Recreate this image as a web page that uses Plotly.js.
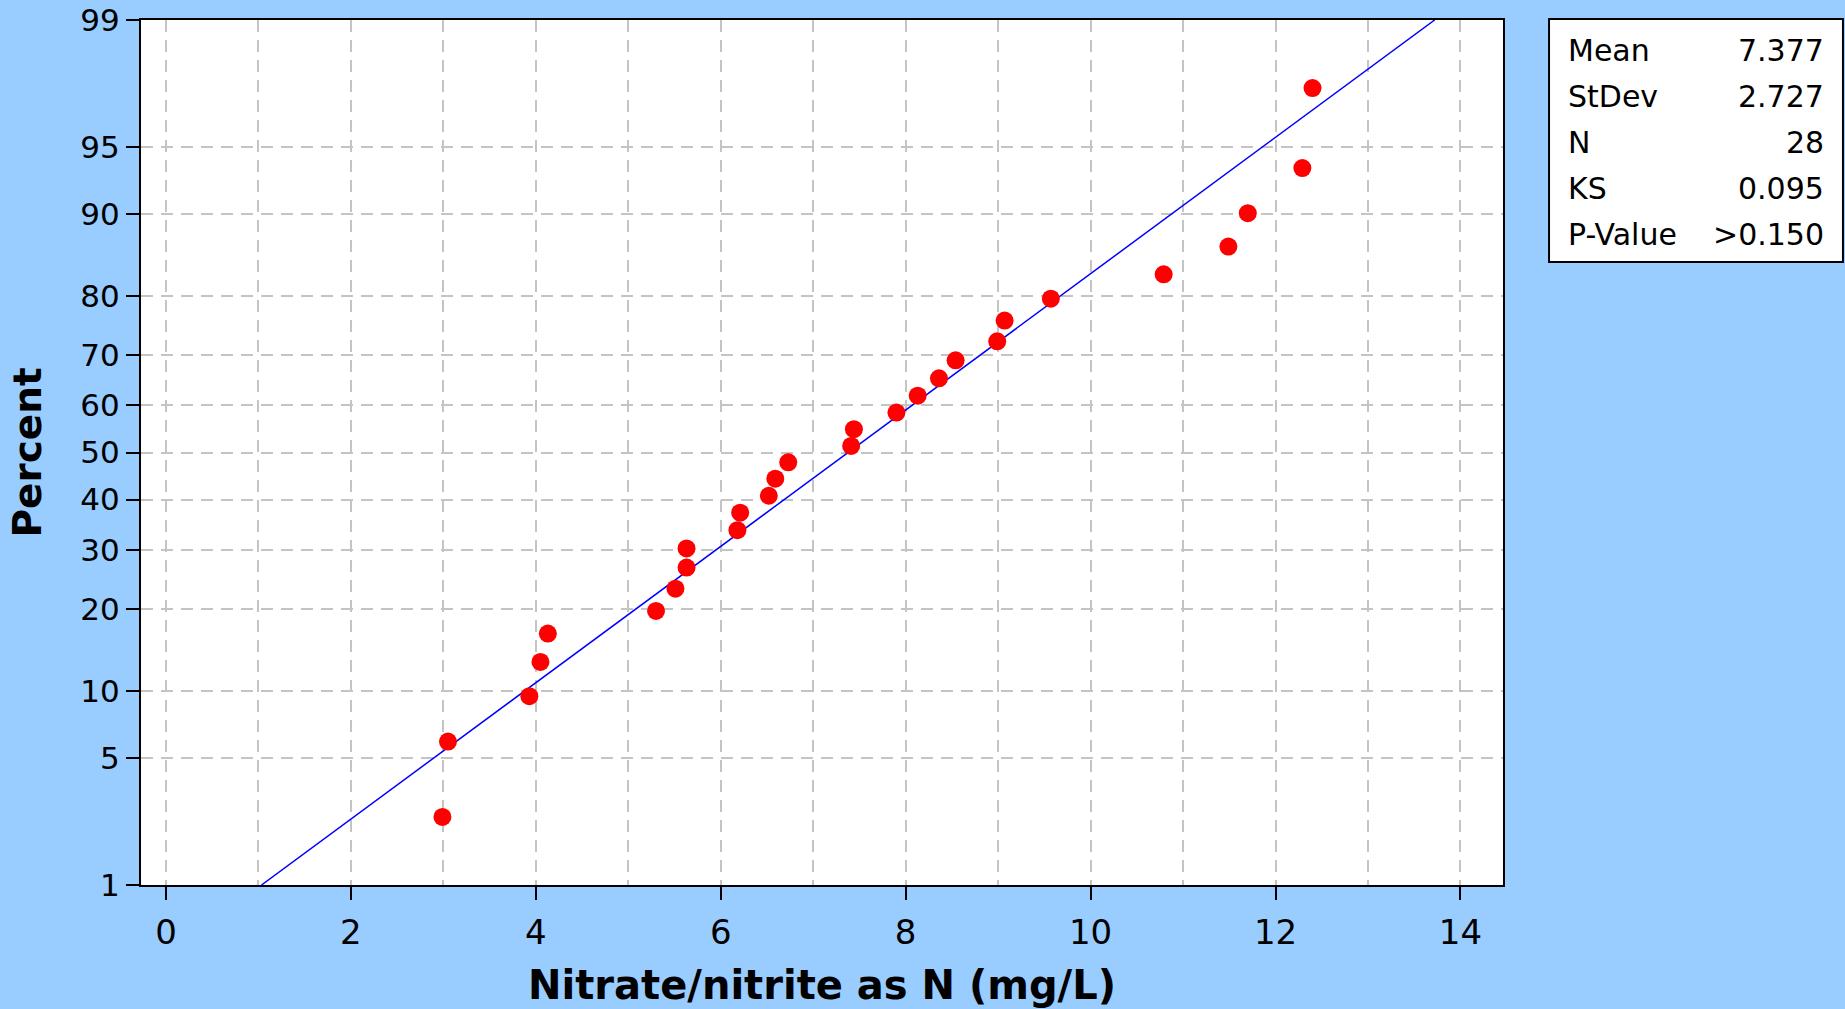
<!DOCTYPE html>
<html>
<head>
<meta charset="utf-8">
<script src="https://cdn.plot.ly/plotly-3.0.1.min.js"></script>
<style>
html,body{margin:0;padding:0;background:#99ccff;}
#chart{width:1845px;height:1009px;}
</style>
</head>
<body>
<div id="chart"></div>
<script>
const nitrateValues = [2.99, 3.05, 3.93, 4.05, 4.13, 5.30, 5.51, 5.63, 5.63, 6.18,
  6.21, 6.52, 6.59, 6.73, 7.41, 7.44, 7.90, 8.13, 8.36, 8.54,
  8.99, 9.07, 9.57, 10.79, 11.49, 11.70, 12.29, 12.40];
// Plotted cumulative percent of each point
const pointPercent = [2.5, 6.0, 9.5, 13.0, 16.5, 19.7, 23.2, 26.8, 30.3, 33.8,
  37.3, 40.8, 44.4, 47.9, 51.4, 55.0, 58.5, 62.0, 65.5, 69.0,
  72.5, 76.1, 79.6, 83.1, 86.6, 90.1, 93.7, 97.5];
// Probability-axis tick labels (percent)
const percentTicks = [1, 5, 10, 20, 30, 40, 50, 60, 70, 80, 90, 95, 99];
// Statistics box
const statLabels = ["Mean", "StDev", "N", "KS", "P-Value"];
const statValues = ["7.377", "2.727", "28", "0.095", ">0.150"];
const fitMean = 7.377;
const fitStDev = 2.727;
const fitPercentEnds = [1, 99];

// Probability scale: percent -> standard normal quantile (Acklam)
function normInv(p) {
  const a = [-3.969683028665376e+01, 2.209460984245205e+02, -2.759285104469687e+02, 1.383577518672690e+02, -3.066479806614716e+01, 2.506628277459239e+00];
  const b = [-5.447609879822406e+01, 1.615858368580409e+02, -1.556989798598866e+02, 6.680131188771972e+01, -1.328068155288572e+01];
  const c = [-7.784894002430293e-03, -3.223964580411365e-01, -2.400758277161838e+00, -2.549732539343734e+00, 4.374664141464968e+00, 2.938163982698783e+00];
  const d = [7.784695709041462e-03, 3.224671290700398e-01, 2.445134137142996e+00, 3.754408661907416e+00];
  const pl = 0.02425, ph = 1 - pl;
  let q, r;
  if (p < pl) {
    q = Math.sqrt(-2 * Math.log(p));
    return (((((c[0]*q+c[1])*q+c[2])*q+c[3])*q+c[4])*q+c[5]) / ((((d[0]*q+d[1])*q+d[2])*q+d[3])*q+1);
  } else if (p <= ph) {
    q = p - 0.5; r = q*q;
    return (((((a[0]*r+a[1])*r+a[2])*r+a[3])*r+a[4])*r+a[5])*q / (((((b[0]*r+b[1])*r+b[2])*r+b[3])*r+b[4])*r+1);
  } else {
    q = Math.sqrt(-2 * Math.log(1 - p));
    return -(((((c[0]*q+c[1])*q+c[2])*q+c[3])*q+c[4])*q+c[5]) / ((((d[0]*q+d[1])*q+d[2])*q+d[3])*q+1);
  }
}
const z = pct => normInv(pct / 100);

const fitZ = fitPercentEnds.map(z);
const fitX = fitZ.map(v => fitMean + v * fitStDev);

const font = "DejaVu Sans, Verdana, sans-serif";
const gridDash = "12px,8px";
const gridColor = "#c4c4c4";

const traces = [
  {
    x: fitX, y: fitZ, type: "scatter", mode: "lines",
    line: {color: "#0000ff", width: 1.5}, hoverinfo: "skip", cliponaxis: true
  },
  {
    x: nitrateValues, y: pointPercent.map(z), type: "scatter", mode: "markers",
    marker: {color: "#ff0000", size: 18}, cliponaxis: false
  }
];

// paper coordinates of the stats box
const boxL = 1.0338, boxR = 1.2496, boxT = 1.0012, boxB = 0.7202;
const rowY = [0.9650, 0.9118, 0.8586, 0.8054, 0.7523];

const annotations = [];
statLabels.forEach((s, i) => {
  annotations.push({xref: "paper", yref: "paper", x: 1.0460, y: rowY[i], xanchor: "left", yanchor: "middle",
    text: s, showarrow: false, font: {family: font, size: 30, color: "#000"}});
  annotations.push({xref: "paper", yref: "paper", x: 1.2375, y: rowY[i], xanchor: "right", yanchor: "middle",
    text: statValues[i], showarrow: false, font: {family: font, size: 30, color: "#000"}});
});

const layout = {
  width: 1845, height: 1009,
  paper_bgcolor: "#99ccff", plot_bgcolor: "#ffffff",
  margin: {l: 141, r: 342, t: 20, b: 124, pad: 0},
  showlegend: false,
  font: {family: font, color: "#000"},
  xaxis: {
    range: [-0.27, 14.46], tickmode: "linear", tick0: 0, dtick: 2,
    ticks: "outside", ticklen: 13, tickwidth: 2, tickcolor: "#000",
    tickfont: {family: font, size: 34, color: "#000"},
    ticklabelstandoff: 3,
    showline: true, linecolor: "#000", linewidth: 2, mirror: true,
    showgrid: true, gridcolor: gridColor, gridwidth: 2, griddash: gridDash,
    minor: {dtick: 1, tick0: 0, showgrid: true, gridcolor: gridColor, gridwidth: 2, griddash: gridDash, ticks: ""},
    zeroline: false,
    title: {text: "Nitrate/nitrite as N (mg/L)", font: {family: font, size: 40, color: "#000", weight: "bold"}, standoff: 20}
  },
  yaxis: {
    range: [z(1), z(99)], tickmode: "array",
    tickvals: percentTicks.map(z), ticktext: percentTicks.map(String),
    ticks: "outside", ticklen: 13, tickwidth: 2, tickcolor: "#000",
    tickfont: {family: font, size: 31, color: "#000"},
    showline: true, linecolor: "#000", linewidth: 2, mirror: true,
    showgrid: true, gridcolor: gridColor, gridwidth: 2, griddash: gridDash,
    zeroline: false,
    title: {text: "Percent", font: {family: font, size: 39, color: "#000", weight: "bold"}, standoff: 27}
  },
  shapes: [
    {type: "rect", xref: "paper", yref: "paper", x0: boxL, x1: boxR, y0: boxB, y1: boxT,
     fillcolor: "#ffffff", line: {color: "#000", width: 2}}
  ],
  annotations: annotations
};

Plotly.newPlot("chart", traces, layout, {displayModeBar: false, staticPlot: true});
</script>
</body>
</html>
